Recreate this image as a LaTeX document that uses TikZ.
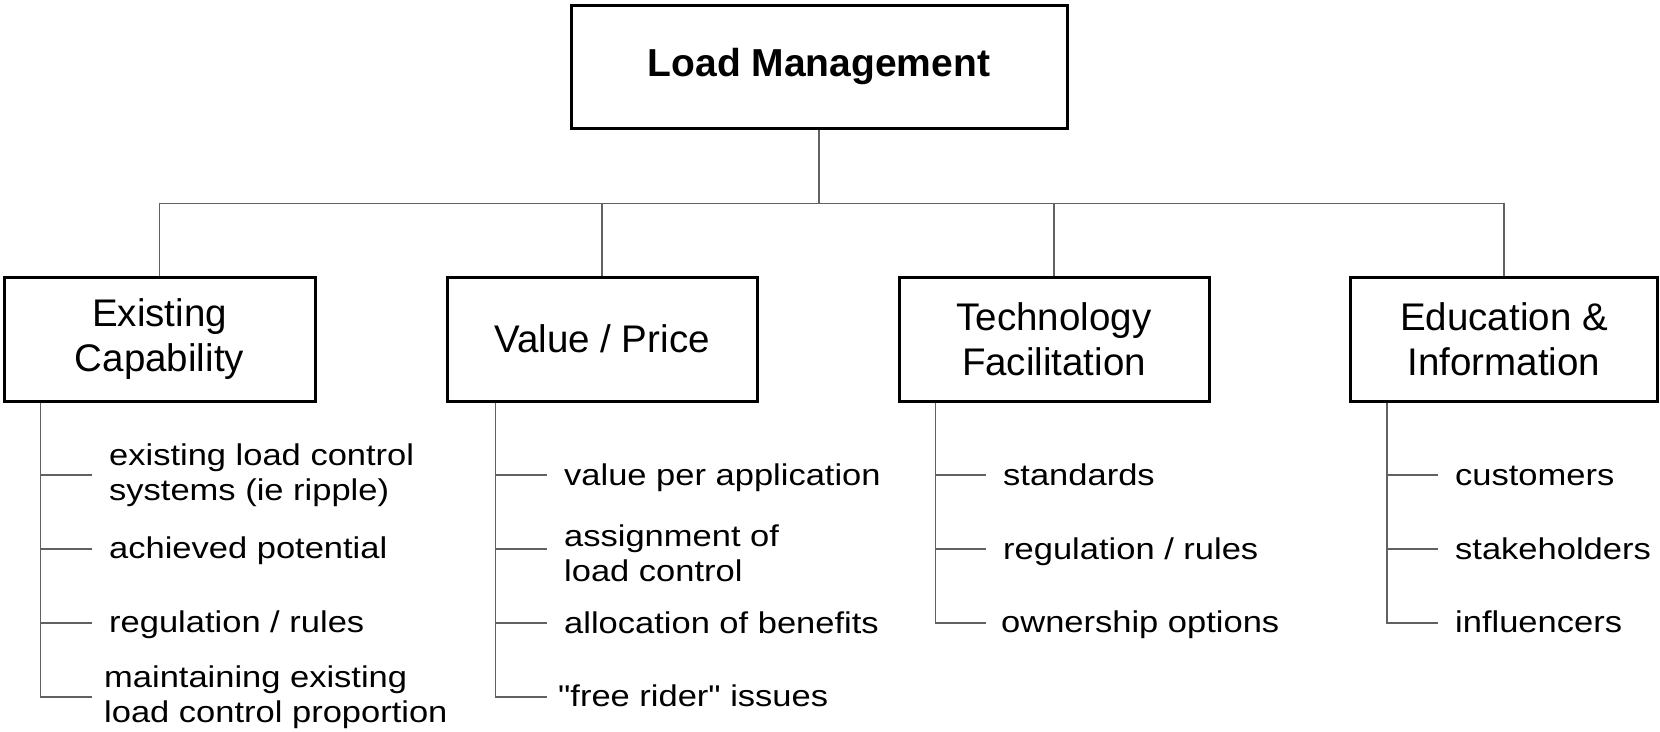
\documentclass[tikz,border=0pt]{standalone}
\usepackage{fontspec}
\setmainfont{Liberation Sans}
\newfontfamily\itemfont[FakeStretch=1.15]{Liberation Sans}
\begin{document}
\begin{tikzpicture}[x=1pt,y=-1pt,
  box/.style={draw=black, line width=3pt, minimum width=310pt, minimum height=124pt,
              inner sep=0pt, align=center, font=\fontsize{38.5}{45}\selectfont},
  conn/.style={draw=black!62, line width=1.4pt},
  itm/.style={anchor=base west, inner sep=0pt, align=left,
              font=\itemfont\fontsize{30}{35}\selectfont}]
\useasboundingbox (0,0) rectangle (1660,731);

% boxes
\node[box, minimum width=496pt, minimum height=123pt,
      font=\bfseries\fontsize{39}{46}\selectfont] (root) at (819,66.5) {Load Management};
\node[box, minimum width=311pt] (ec) at (159.5,339) {Existing\\Capability};
\node[box] (vp) at (602,339) {Value / Price};
\node[box] (tf) at (1054,339) {Technology\\Facilitation};
\node[box, minimum width=307pt] (ei) at (1504,339) {Education \&\\Information};

% tree connectors
\draw[conn] (root.south) -- ++(0,74) coordinate (hub);
\draw[conn] (ec.north) |- (ei.north |- hub) -- (ei.north);
\draw[conn] (vp.north) -- (vp.north |- hub);
\draw[conn] (tf.north) -- (tf.north |- hub);

% ---- Existing Capability list (multi-line nodes: base = last line)
\coordinate (ecs) at ([xshift=38pt]ec.south west);
\coordinate (e1b) at (92,475);
\coordinate (e2b) at (92,549);
\coordinate (e3b) at (92,623);
\coordinate (e4b) at (92,697);
\node[itm] (e1) at (109,500) {existing load control\\systems (ie ripple)};
\node[itm] (e2) at (109,558.5) {achieved potential};
\node[itm] (e3) at (109,632.5) {regulation / rules};
\node[itm] (e4) at (104,722) {maintaining existing\\load control proportion};
\draw[conn] (ecs) |- (e4b);
\draw[conn] (ecs |- e1b) -- (e1b);
\draw[conn] (ecs |- e2b) -- (e2b);
\draw[conn] (ecs |- e3b) -- (e3b);

% ---- Value / Price list
\coordinate (vps) at ([xshift=50pt]vp.south west);
\coordinate (v1b) at (547,475);
\coordinate (v2b) at (547,549);
\coordinate (v3b) at (547,623);
\coordinate (v4b) at (547,697);
\node[itm] (v1) at (564,485) {value per application};
\node[itm] (v2) at (564,581) {assignment of\\load control};
\node[itm] (v3) at (564,633) {allocation of benefits};
\node[itm] (v4) at (558,706) {"free rider" issues};
\draw[conn] (vps) |- (v4b);
\draw[conn] (vps |- v1b) -- (v1b);
\draw[conn] (vps |- v2b) -- (v2b);
\draw[conn] (vps |- v3b) -- (v3b);

% ---- Technology Facilitation list
\coordinate (tfs) at ([xshift=38pt]tf.south west);
\coordinate (t1b) at (986,475);
\coordinate (t2b) at (986,549);
\coordinate (t3b) at (986,623);
\node[itm] (t1) at (1003,485) {standards};
\node[itm] (t2) at (1003,559) {regulation / rules};
\node[itm] (t3) at (1001,632) {ownership options};
\draw[conn] (tfs) |- (t3b);
\draw[conn] (tfs |- t1b) -- (t1b);
\draw[conn] (tfs |- t2b) -- (t2b);

% ---- Education & Information list
\coordinate (eis) at ([xshift=38pt]ei.south west);
\coordinate (i1b) at (1438,475);
\coordinate (i2b) at (1438,549);
\coordinate (i3b) at (1438,623);
\node[itm] (i1) at (1455,485) {customers};
\node[itm] (i2) at (1455,559) {stakeholders};
\node[itm] (i3) at (1455,632) {influencers};
\draw[conn] (eis) |- (i3b);
\draw[conn] (eis |- i1b) -- (i1b);
\draw[conn] (eis |- i2b) -- (i2b);
\end{tikzpicture}
\end{document}
